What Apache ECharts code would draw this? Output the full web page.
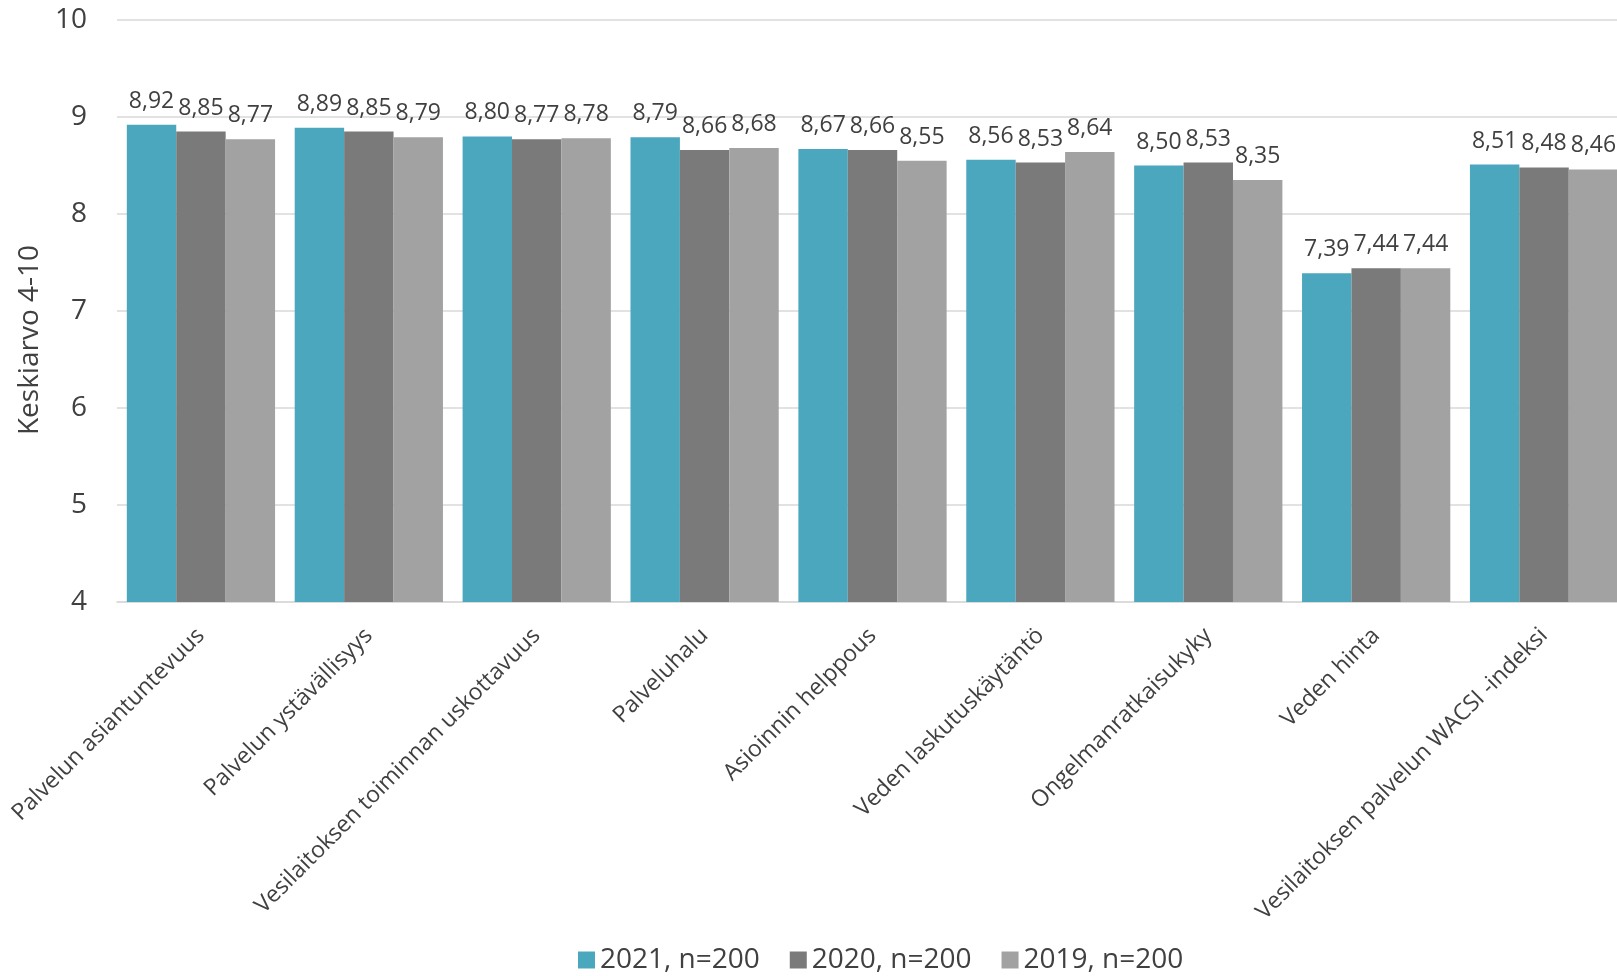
<!DOCTYPE html>
<html>
<head>
<meta charset="utf-8">
<script src="https://cdn.jsdelivr.net/npm/echarts@6/dist/echarts.min.js"></script>
<style>
html,body{margin:0;padding:0;background:#fff;overflow:hidden;}
#chart{width:1628px;height:976px;}
</style>
</head>
<body>
<div id="chart"></div>
<script>
const categories = [
  "Palvelun asiantuntevuus",
  "Palvelun ystävällisyys",
  "Vesilaitoksen toiminnan uskottavuus",
  "Palveluhalu",
  "Asioinnin helppous",
  "Veden laskutuskäytäntö",
  "Ongelmanratkaisukyky",
  "Veden hinta",
  "Vesilaitoksen palvelun WACSI -indeksi"
];
const seriesNames = ["2021, n=200", "2020, n=200", "2019, n=200"];
const values2021 = [8.92, 8.89, 8.80, 8.79, 8.67, 8.56, 8.50, 7.39, 8.51];
const values2020 = [8.85, 8.85, 8.77, 8.66, 8.66, 8.53, 8.53, 7.44, 8.48];
const values2019 = [8.77, 8.79, 8.78, 8.68, 8.55, 8.64, 8.35, 7.44, 8.46];
const yTicks = [4, 5, 6, 7, 8, 9, 10];

const colors = ["#4BA7BD", "#7A7A7A", "#A2A2A2"];
const FONT = "Open Sans";
const TXT = "#404040";

function mk(name, data, color) {
  return {
    name: name,
    type: "bar",
    data: data,
    barGap: "0%",
    barCategoryGap: "11.7%",
    itemStyle: { color: color },
    label: {
      show: true,
      position: "top",
      distance: 12,
      color: TXT,
      fontFamily: FONT,
      fontSize: 23,
      formatter: p => p.value.toFixed(2).replace(".", ",")
    }
  };
}

const chart = echarts.init(document.getElementById("chart"), null, { renderer: "canvas" });
chart.setOption({
  animation: false,
  color: colors,
  textStyle: { fontFamily: FONT },
  grid: { left: 117, top: 20, right: 0, bottom: 374, containLabel: false },
  legend: {
    data: seriesNames,
    left: 573,
    top: 941,
    itemWidth: 17,
    itemHeight: 17,
    itemGap: 30,
    icon: "rect",
    textStyle: { color: TXT, fontFamily: FONT, fontSize: 28, padding: [0, 0, 0, 0] }
  },
  xAxis: {
    type: "category",
    data: categories,
    axisLine: { show: true, lineStyle: { color: "#D9D9D9", width: 1.5 } },
    axisTick: { show: false },
    axisLabel: {
      interval: 0,
      rotate: 45,
      margin: 30,
      color: TXT,
      fontFamily: FONT,
      fontSize: 23
    }
  },
  yAxis: {
    type: "value",
    min: yTicks[0],
    max: yTicks[yTicks.length - 1],
    interval: 1,
    name: "Keskiarvo 4-10",
    nameLocation: "middle",
    nameRotate: 90,
    nameGap: 67,
    nameTextStyle: { color: TXT, fontFamily: FONT, fontSize: 28, padding: [0, 58, 0, 0] },
    axisLine: { show: false },
    axisTick: { show: false },
    splitLine: { lineStyle: { color: "#D9D9D9", width: 1.5 } },
    axisLabel: { margin: 30, color: TXT, fontFamily: FONT, fontSize: 28 }
  },
  series: [
    mk(seriesNames[0], values2021, colors[0]),
    mk(seriesNames[1], values2020, colors[1]),
    mk(seriesNames[2], values2019, colors[2])
  ]
});
</script>
</body>
</html>
